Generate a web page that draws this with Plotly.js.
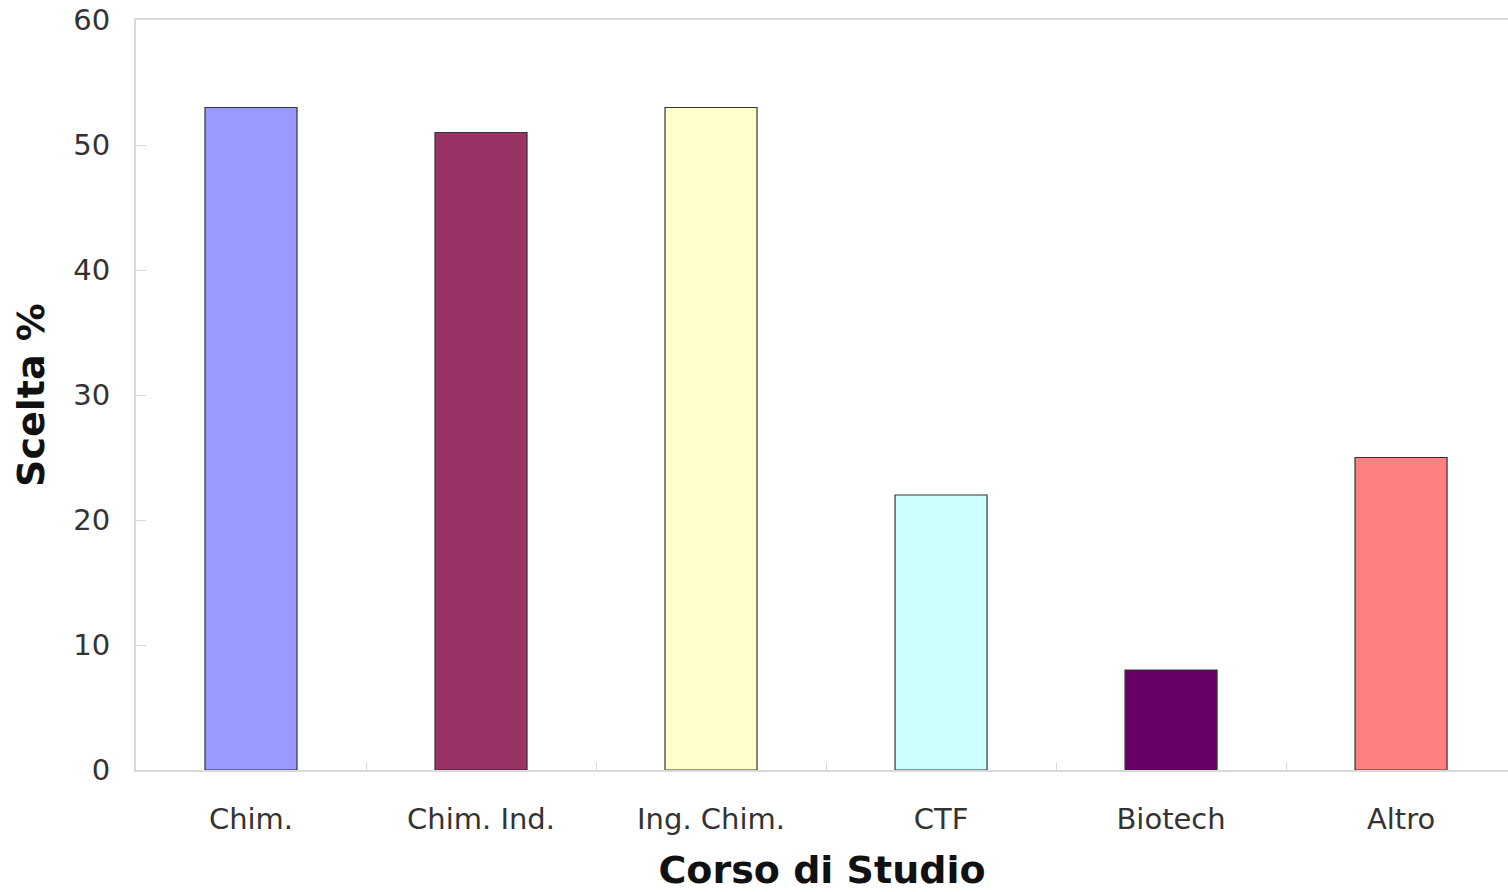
<!DOCTYPE html>
<html>
<head>
<meta charset="utf-8">
<script src="https://cdn.plot.ly/plotly-3.0.1.min.js"></script>
<style>html,body{margin:0;padding:0;background:#fff;}#chart{width:1508px;height:892px;}</style>
</head>
<body>
<div id="chart"></div>
<script>
const categories = ["Chim.", "Chim. Ind.", "Ing. Chim.", "CTF", "Biotech", "Altro"];
const values = [53, 51, 53, 22, 8, 25];
const barColors = ["#9999FF", "#993366", "#FFFFCC", "#CCFFFF", "#660066", "#FF8080"];
const yTicks = [0, 10, 20, 30, 40, 50, 60];

const fontFam = "DejaVu Sans, Verdana, sans-serif";

Plotly.newPlot("chart", [{
  type: "bar",
  x: categories,
  y: values,
  width: 0.4,
  marker: {color: barColors, line: {color: "#333333", width: 1.2}},
  hoverinfo: "x+y"
}], {
  width: 1508, height: 892,
  margin: {l: 136, r: 0, t: 20, b: 122},
  paper_bgcolor: "#ffffff", plot_bgcolor: "#ffffff",
  showlegend: false,
  font: {family: fontFam, color: "#333333"},
  xaxis: {
    type: "category",
    range: [-0.5, 5.465],
    showgrid: false,
    showline: true, linecolor: "#d9d9d9", linewidth: 2,
    mirror: true,
    ticks: "inside", tickson: "boundaries", ticklen: 7, tickcolor: "#d9d9d9", tickwidth: 1,
    tickfont: {size: 29, color: "#333333", family: fontFam},
    ticklabelstandoff: 22,
    title: {text: "Corso di Studio", font: {size: 38, color: "#111111", family: "DejaVu Sans, sans-serif", weight: "bold"}, standoff: 36},
    zeroline: false
  },
  yaxis: {
    range: [0, 60],
    tickvals: yTicks,
    showgrid: false,
    showline: true, linecolor: "#d9d9d9", linewidth: 2,
    ticks: "inside", ticklen: 10, tickcolor: "#d9d9d9", tickwidth: 1,
    tickfont: {size: 29, color: "#333333", family: fontFam},
    ticklabelstandoff: 18,
    title: {text: "Scelta %", font: {size: 38, color: "#111111", family: "DejaVu Sans, sans-serif", weight: "bold"}, standoff: 17},
    zeroline: false
  }
}, {displayModeBar: false, staticPlot: false});
</script>
</body>
</html>
